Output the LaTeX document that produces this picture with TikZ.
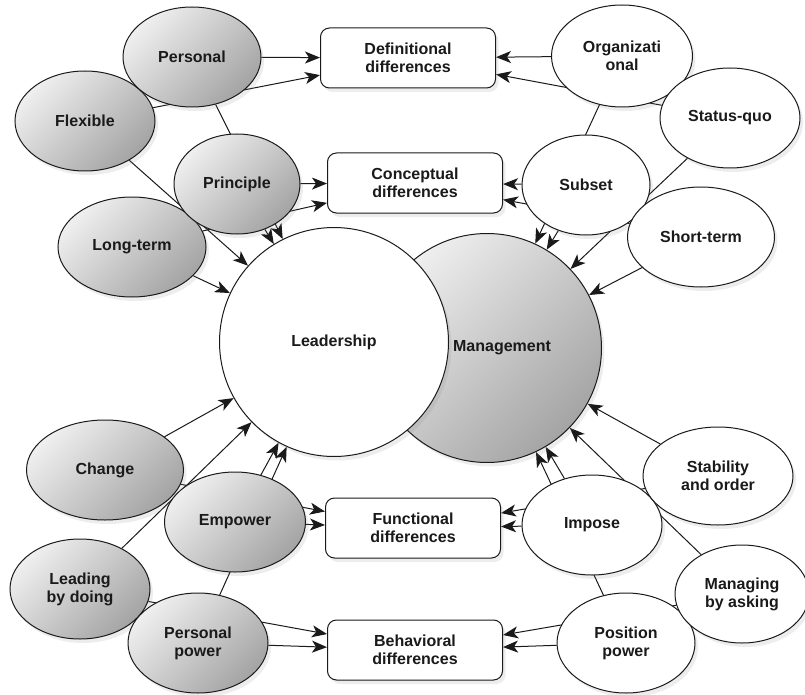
\documentclass[tikz,border=0pt]{standalone}
\usepackage{fontspec}
\setmainfont{Liberation Sans}
\usepackage{tikz}
\usetikzlibrary{arrows.meta,shapes.geometric,shadows}
\definecolor{traitlight}{HTML}{EFEFEF}
\definecolor{traitdark}{HTML}{A4A4A4}
\definecolor{linedark}{HTML}{1A1A1A}
\pgfdeclarelayer{background}
\pgfsetlayers{background,main}

\begin{document}
\begin{tikzpicture}[
    x=1pt, y=-1pt,
    every node/.style={font=\fontsize{16}{18}\selectfont\bfseries, align=center, text=linedark},
    softshadow/.style={drop shadow={opacity=0.14, shadow xshift=3pt, shadow yshift=-4pt}},
    trait/.style={ellipse, draw=linedark, line width=1pt, inner sep=0pt,
      minimum width=140pt, minimum height=100pt, softshadow},
    leadtrait/.style={trait, top color=traitlight, bottom color=traitdark, shading angle=45},
    mgmttrait/.style={trait, fill=white},
    diffbox/.style={draw=linedark, line width=1pt, rounded corners=9pt, fill=white,
      minimum width=175pt, minimum height=60pt, softshadow},
    core/.style={circle, draw=linedark, line width=1pt, inner sep=0pt, minimum size=229pt, softshadow},
    arrow/.style={-{Stealth[length=15pt, width=12pt, inset=4pt]}, line width=1pt, draw=linedark}
  ]
    \useasboundingbox (0,0) rectangle (805,695);

    % the two overlapping circles
    \node[core, top color=traitlight, bottom color=traitdark, shading angle=45,
      label={[xshift=15pt]center:Management}] (mgmt) at (487,348) {};
    \node[core, fill=white] (lead) at (334,342) {Leadership};

    % leadership traits
    \node[leadtrait] (flexible) at (85,121) {Flexible};
    \node[leadtrait, minimum width=138pt] (personal) at (192,57) {Personal};
    \node[leadtrait, minimum width=148pt] (longterm) at (132,247) {Long-term};
    \node[leadtrait, minimum width=126pt] (principle) at (237,184) {Principle};
    \node[leadtrait, minimum width=157pt] (change) at (105,470) {Change};
    \node[leadtrait, minimum width=141pt] (empower) at (235,522) {Empower};
    \node[leadtrait] (leading) at (80,589) {Leading\\by doing};
    \node[leadtrait] (perspower) at (198,643) {Personal\\power};

    % management traits
    \node[mgmttrait, minimum width=141pt, minimum height=102pt] (organiz) at (622,56) {Organizati\\onal};
    \node[mgmttrait] (statusquo) at (730,118) {Status-quo};
    \node[mgmttrait, minimum width=128pt] (subset) at (586,185) {Subset};
    \node[mgmttrait, minimum width=147pt] (shortterm) at (701,237) {Short-term};
    \node[mgmttrait] (impose) at (592,525) {Impose};
    \node[mgmttrait, minimum width=150pt, minimum height=98pt] (stability) at (718,476) {Stability\\and order};
    \node[mgmttrait, minimum width=138pt] (pospower) at (626,643) {Position\\power};
    \node[mgmttrait, minimum width=134pt, minimum height=98pt] (managing) at (742,594) {Managing\\by asking};

    % the four kinds of difference
    \node[diffbox] (defn) at (408,58) {Definitional\\differences};
    \node[diffbox] (concept) at (415,183) {Conceptual\\differences};
    \node[diffbox] (funct) at (413,528) {Functional\\differences};
    \node[diffbox] (behav) at (415,650) {Behavioral\\differences};

    \begin{pgfonlayer}{background}
    \draw[arrow] (personal) -- (defn);
    \draw[arrow] (flexible) -- (defn);
    \draw[arrow] (personal) -- (lead);
    \draw[arrow] (flexible) -- (lead);
    \draw[arrow] (principle) -- (concept);
    \draw[arrow] (longterm) -- (concept);
    \draw[arrow] (principle) -- (lead);
    \draw[arrow] (longterm) -- (lead);
    \draw[arrow] (change) -- (lead);
    \draw[arrow] (leading) -- (lead);
    \draw[arrow] (empower) -- (lead);
    \draw[arrow] (perspower) -- (lead);
    \draw[arrow] (empower) -- (funct);
    \draw[arrow] (change) -- (funct);
    \draw[arrow] (perspower) -- (behav);
    \draw[arrow] (leading) -- (behav);

    \draw[arrow] (organiz) -- (defn);
    \draw[arrow] (statusquo) -- (defn);
    \draw[arrow] (subset) -- (concept);
    \draw[arrow] (shortterm) -- (concept);
    \draw[arrow] (subset) -- (mgmt);
    \draw[arrow] (organiz) -- (mgmt);
    \draw[arrow] (statusquo) -- (mgmt);
    \draw[arrow] (shortterm) -- (mgmt);
    \draw[arrow] (impose) -- (funct);
    \draw[arrow] (stability) -- (funct);
    \draw[arrow] (pospower) -- (behav);
    \draw[arrow] (managing) -- (behav);
    \draw[arrow] (impose) -- (mgmt);
    \draw[arrow] (pospower) -- (mgmt);
    \draw[arrow] (stability) -- (mgmt);
    \draw[arrow] (managing) -- (mgmt);
    \end{pgfonlayer}
  \end{tikzpicture}
\end{document}
